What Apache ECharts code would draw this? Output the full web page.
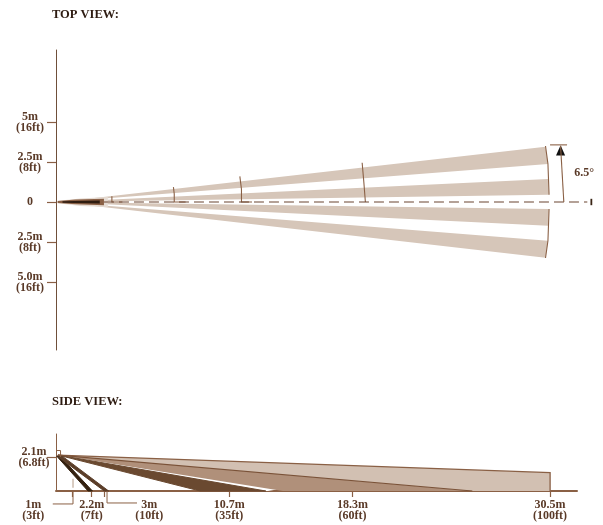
<!DOCTYPE html>
<html><head><meta charset="utf-8">
<style>html,body{margin:0;padding:0;background:#fff}#c{width:603px;height:525px}</style>
<script src="https://cdn.jsdelivr.net/npm/echarts@6/dist/echarts.min.js"></script>
</head><body><div id="c"></div>
<script>
// Tick labels
const topTickValues = [5, 2.5, 0, -2.5, -5];
const topTickLabels = ['5m\n(16ft)', '2.5m\n(8ft)', '0', '2.5m\n(8ft)', '5.0m\n(16ft)'];
const sideHeightValues = [2.1];
const sideHeightLabels = ['2.1m\n(6.8ft)'];
const sideTickValues = [1, 2.2, 3, 10.7, 18.3, 30.5];
const sideAxisLabelValues = [2.2, 10.7, 18.3, 30.5];
const sideAxisLabels = ['2.2m\n(7ft)', '10.7m\n(35ft)', '18.3m\n(60ft)', '30.5m\n(100ft)'];
const sideOffsetLabels = [[-1.4, -1.2, '1m\n(3ft)'], [5.75, -1.2, '3m\n(10ft)']];

// Top view: beams in metres [distance, lateral]
const beamApex = [0.2, 0];
const topBands = [
  [[30.22, 3.46], [30.37, 2.38]],
  [[30.39, 1.44], [30.43, 0.45]],
  [[30.43, -0.44], [30.39, -1.48]],
  [[30.37, -2.42], [30.22, -3.48]]
];
const rangeArcs = [
  [[3.45, 0.36], [3.45, 0], [4.1, 0]],
  [[7.25, 0.93], [7.3, 0.5], [7.3, 0], [8, 0]],
  [[11.35, 1.6], [11.45, 0.8], [11.45, 0], [12.1, 0]],
  [[18.9, 2.45], [19.0, 1.3], [19.1, 0]],
  [[30.22, 3.5], [30.37, 2.38], [30.44, 0.45]],
  [[30.44, -0.44], [30.37, -2.42], [30.22, -3.5]]
];
const centerLine = [[2.96, 0], [32.8, 0]];
const sensorGlow = [[0.1, 0.08], [1.5, 0.22], [3.2, 0.32], [3.2, -0.32], [1.5, -0.25], [0.1, -0.08]];
const sensorBody = [[0.1, 0.06], [1.2, 0.16], [2.96, 0.2], [2.96, -0.2], [1.2, -0.14], [0.1, -0.06]];
const sensorCore = [[0.4, 0.04], [2.7, 0.1], [2.7, -0.1], [0.4, -0.04]];
const angleStem = [[31.15, 3.5], [31.35, 0]];
const angleCap = [[30.5, 3.57], [31.55, 3.57]];
const angleHead = [[31.15, 3.55], [30.87, 2.9], [31.43, 2.9]];
const rightMark = [[33.05, 0.2], [33.05, -0.2]];
const angleLabel = [32, 1.8, '6.5°'];

// Side view: zones in metres [distance, height]
const mountPoint = [0.12, 2.22];
const farZone = [mountPoint, [30.5, 1.13], [30.5, 0], [25.7, 0]];
const midZone = [mountPoint, [25.7, 0], [14.0, 0]];
const gapZone = [mountPoint, [13.45, 0], [12.85, 0]];
const darkZone = [mountPoint, [12.95, 0], [8.9, 0]];
const nearZoneA = [[0.2, 2.2], [2.25, 0], [1.98, 0], [0.05, 2.15]];
const nearZoneB = [[0.32, 2.2], [3.25, 0], [2.98, 0], [0.15, 2.1]];
const farTopEdge = [mountPoint, [30.5, 1.13], [30.5, 0]];
const midTopEdge = [mountPoint, [25.7, 0]];
const mountBracket = [[0, 2.5], [0.28, 2.5], [0.28, 2.1]];
const leader1m = [[1.05, 0], [1.05, -0.8], [-0.2, -0.8]];
const leader3m = [[3.15, 0], [3.15, -0.74], [5.0, -0.74]];
const paleMark = [[1.05, 0.2], [1.05, 0.75]];

const FONT = '"Liberation Serif", serif';
const BROWN = '#8a6045', TEXT = '#5a3a28';
const chart = echarts.init(document.getElementById('c'), null, {renderer: 'canvas'});

function mark(grid, points, style, closed, z) {
  return {
    type: 'custom', xAxisIndex: grid, yAxisIndex: grid, silent: true, clip: false,
    z: z || 2, data: [[0, 0]],
    renderItem(params, api) {
      return {
        type: closed ? 'polygon' : 'polyline',
        shape: {points: points.map(p => api.coord(p))},
        style: Object.assign(closed ? {} : {fill: null}, style)
      };
    }
  };
}
function label(grid, item, style) {
  return {
    type: 'custom', xAxisIndex: grid, yAxisIndex: grid, silent: true, clip: false,
    z: 5, data: [[0, 0]],
    renderItem(params, api) {
      const p = api.coord([item[0], item[1]]);
      return {type: 'text', style: Object.assign({
        x: p[0], y: p[1], text: item[2], font: 'bold 12px ' + FONT, fill: TEXT,
        align: 'center', verticalAlign: 'middle', lineHeight: 11
      }, style || {})};
    }
  };
}
const line = (g, pts, color, w, extra) => mark(g, pts, Object.assign({stroke: color, lineWidth: w}, extra || {}), false, 4);
const area = (g, pts, color, edge) => mark(g, pts, edge ? {fill: color, stroke: edge, lineWidth: 1} : {fill: color}, true, 3);

const series = [];
topBands.forEach(b => series.push(area(0, [beamApex, b[0], b[1]], '#d6c6b9')));
series.push(area(0, sensorGlow, '#e6dcd4'), area(0, sensorBody, '#8a6045'), area(0, sensorCore, '#2e1c10'));
rangeArcs.forEach(a => series.push(line(0, a, BROWN, 1.1)));
series.push(line(0, centerLine, '#6b4530', 1.2, {lineDash: [10, 5]}));
series.push(line(0, angleStem, BROWN, 1.1), line(0, angleCap, BROWN, 1.1), area(0, angleHead, '#111111'));
series.push(line(0, rightMark, '#3a2515', 1.8));
series.push(label(0, angleLabel, {align: 'left'}));

series.push(area(1, farZone, '#d2c0b2'), area(1, midZone, '#b0907a'), area(1, gapZone, '#ffffff'), area(1, darkZone, '#6a4930', '#6a4930'));
series.push(area(1, nearZoneA, '#33200f', '#33200f'), area(1, nearZoneB, '#5a3d28', '#5a3d28'));
series.push(line(1, farTopEdge, BROWN, 1.3), line(1, midTopEdge, '#7a5238', 1.2));
series.push(line(1, mountBracket, BROWN, 1), line(1, leader1m, BROWN, 1), line(1, leader3m, BROWN, 1), line(1, paleMark, '#cdbcae', 1.5));
sideOffsetLabels.forEach(l => series.push(label(1, l)));

const labelStyle = {fontFamily: FONT, fontWeight: 'bold', fontSize: 12, color: TEXT, lineHeight: 11};
const axisLineStyle = {color: '#6f4f3a', width: 1};

chart.setOption({
  animation: false,
  backgroundColor: '#fff',
  title: [
    {text: 'TOP VIEW:', left: 47, top: 3, textStyle: {fontFamily: FONT, fontWeight: 'bold', fontSize: 12.5, color: '#2e1c12'}},
    {text: 'SIDE VIEW:', left: 47, top: 390, textStyle: {fontFamily: FONT, fontWeight: 'bold', fontSize: 12.5, color: '#2e1c12'}}
  ],
  grid: [
    {left: 56, top: 50, width: 536, height: 300},
    {left: 56, top: 434, width: 521, height: 57}
  ],
  xAxis: [
    {gridIndex: 0, type: 'value', min: 0, max: 33.09, show: false},
    {gridIndex: 1, type: 'value', min: 0, max: 32.16,
     axisLine: {lineStyle: {color: BROWN, width: 2}},
     axisTick: {length: 6, lineStyle: {color: BROWN, width: 1.2}, customValues: sideTickValues},
     axisLabel: Object.assign({margin: 8, customValues: sideAxisLabelValues,
       formatter: v => sideAxisLabels[sideAxisLabelValues.indexOf(v)]}, labelStyle),
     splitLine: {show: false}}
  ],
  yAxis: [
    {gridIndex: 0, type: 'value', min: -9.25, max: 9.5,
     axisLine: {show: true, onZero: false, lineStyle: axisLineStyle},
     axisTick: {show: true, length: 9, lineStyle: {color: BROWN, width: 1.2}, customValues: topTickValues},
     axisLabel: Object.assign({margin: 26, align: 'center', customValues: topTickValues,
       formatter: v => topTickLabels[topTickValues.indexOf(v)]}, labelStyle),
     splitLine: {show: false}},
    {gridIndex: 1, type: 'value', min: 0, max: 3.52,
     axisLine: {show: true, onZero: false, lineStyle: {color: BROWN, width: 1}},
     axisTick: {show: true, length: 9, lineStyle: {color: BROWN, width: 1.2}, customValues: sideHeightValues},
     axisLabel: Object.assign({margin: 22, align: 'center', customValues: sideHeightValues,
       formatter: v => sideHeightLabels[sideHeightValues.indexOf(v)]}, labelStyle),
     splitLine: {show: false}}
  ],
  series
});
</script></body></html>
